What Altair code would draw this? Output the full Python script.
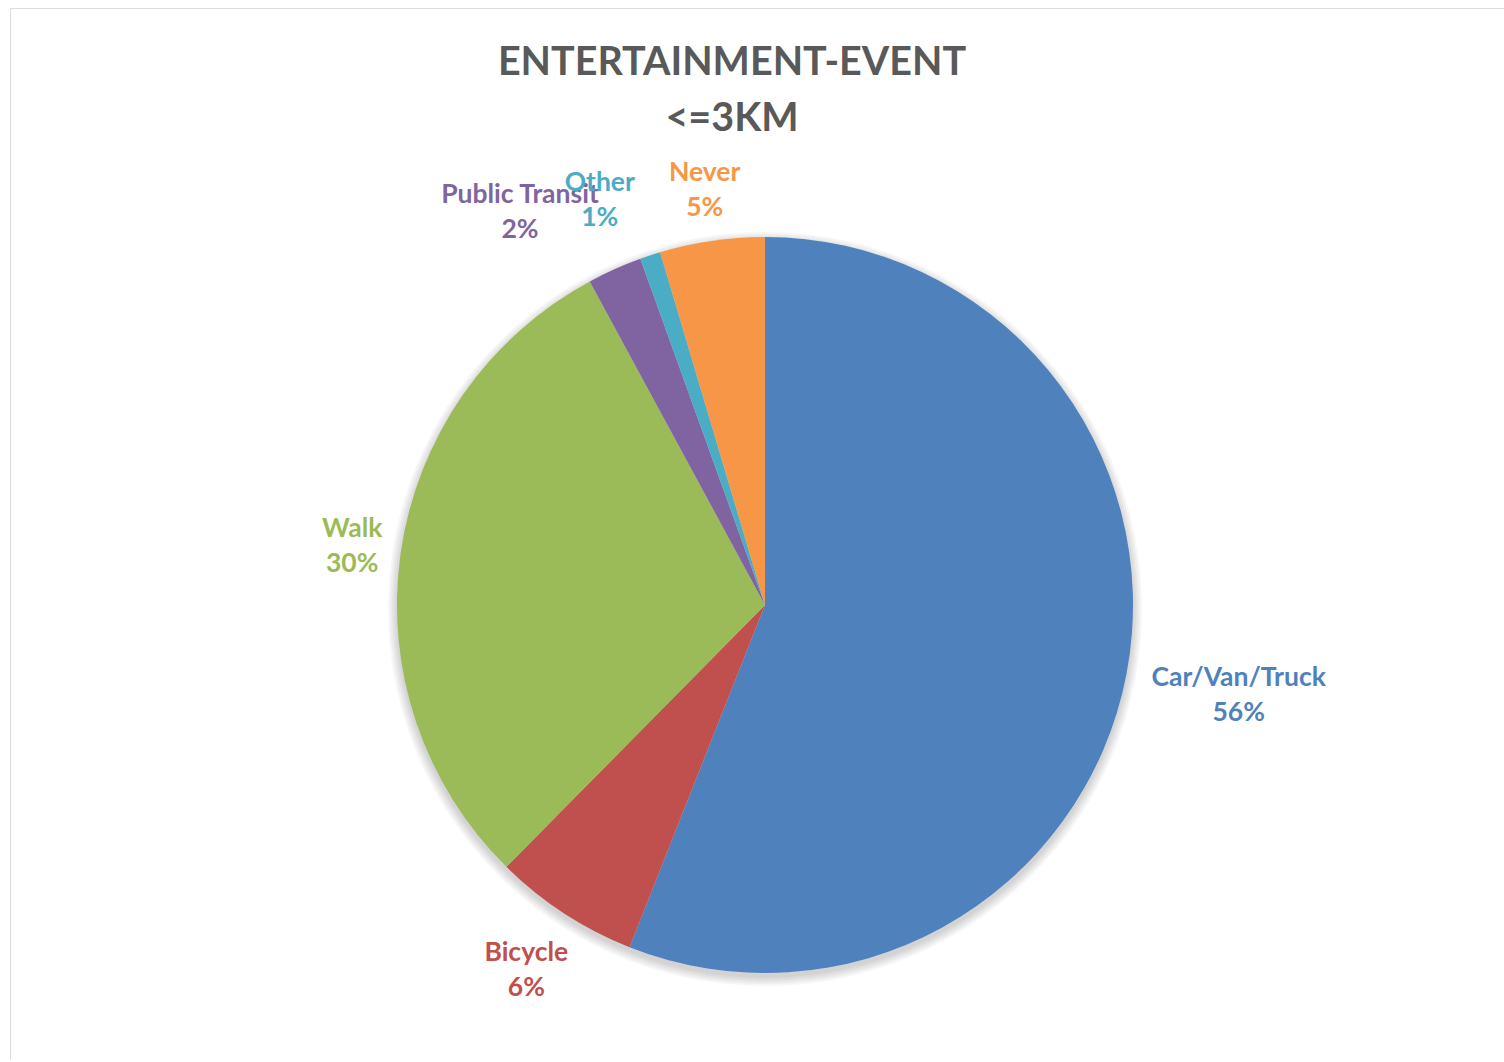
import altair as alt
import pandas as pd

# ---- data ----
modes = ["Car/Van/Truck", "Bicycle", "Walk", "Public Transit", "Other", "Never"]
shares = [56.0, 6.4, 29.7, 2.4, 0.9, 4.6]
colors = ["#4F81BD", "#C0504D", "#9BBB59", "#8064A2", "#4BACC6", "#F79646"]
title_lines = ["ENTERTAINMENT-EVENT", "<=3KM"]

df = pd.DataFrame({"mode": modes, "share": shares, "order": list(range(len(modes)))})

# ---- layout ----
PAD_L, PAD_T = 10, 8
CX, CY, R = 765 - PAD_L, 605 - PAD_T, 368
FONT = "Lato"
LABEL_SIZE = 26.5
CHAR_W = 14.5
HALF_H = 30

color_enc = alt.Color("mode:N", scale=alt.Scale(domain=modes, range=colors), legend=None)

base = alt.Chart(df).encode(
    theta=alt.Theta("share:Q", stack=True),
    order=alt.Order("order:Q"),
    x=alt.value(CX),
)

# soft drop shadow under the pie
shadows = [
    base.mark_arc(radius=R + k, color="#000000", opacity=0.035).encode(y=alt.value(CY + 4))
    for k in (1, 3, 5, 7, 9)
]

pie = base.mark_arc(radius=R).encode(color=color_enc, y=alt.value(CY))

label_base = (
    alt.Chart(df)
    .transform_joinaggregate(total="sum(share)")
    .transform_window(cum="sum(share)", sort=[alt.SortField("order", order="ascending")], frame=[None, 0])
    .transform_calculate(
        mid="2*PI*(datum.cum - datum.share/2)/datum.total",
        label="datum.mode + '\\n' + round(datum.share) + '%'",
    )
    .transform_calculate(
        r=f"{R + 16} + length(datum.mode)*{CHAR_W}/2*abs(sin(datum.mid)) + {HALF_H}*abs(cos(datum.mid))"
    )
    .encode(
        theta=alt.Theta("mid:Q", scale=None, stack=None),
        radius=alt.Radius("r:Q", scale=None),
        text="label:N",
        color=color_enc,
        x=alt.value(CX),
        y=alt.value(CY),
    )
)

text_style = dict(
    font=FONT,
    fontWeight="bold",
    fontSize=LABEL_SIZE,
    lineHeight=35,
    lineBreak="\n",
    align="center",
    baseline="middle",
)

labels_main = label_base.transform_filter(
    "datum.mode !== 'Public Transit' && datum.mode !== 'Other'"
).mark_text(dy=-17.5, **text_style)

# Excel nudges the crowded small-slice labels aside
labels_pt = label_base.transform_filter(
    "datum.mode === 'Public Transit'"
).mark_text(dx=-60, dy=3, **text_style)

labels_other = label_base.transform_filter(
    "datum.mode === 'Other'"
).mark_text(dx=-33, dy=-19, **text_style)

chart = (
    alt.layer(*shadows, pie, labels_main, labels_pt, labels_other)
    .resolve_scale(theta="independent", radius="independent")
    .properties(
        width=1494,
        height=1052,
        padding={"left": PAD_L, "top": PAD_T, "right": 0, "bottom": 0},
        autosize=alt.AutoSizeParams(type="none"),
        title=alt.TitleParams(
            text=title_lines,
            font=FONT,
            fontSize=39.5,
            fontWeight="bold",
            color="#595959",
            anchor="middle",
            lineHeight=56,
            offset=0,
            dx=-25,
            dy=131,
        ),
    )
    .configure_view(stroke="#D9D9D9", strokeWidth=3)
    .configure(background="white")
)

chart.save("out.html", embed_options={"renderer": "svg", "actions": False})
